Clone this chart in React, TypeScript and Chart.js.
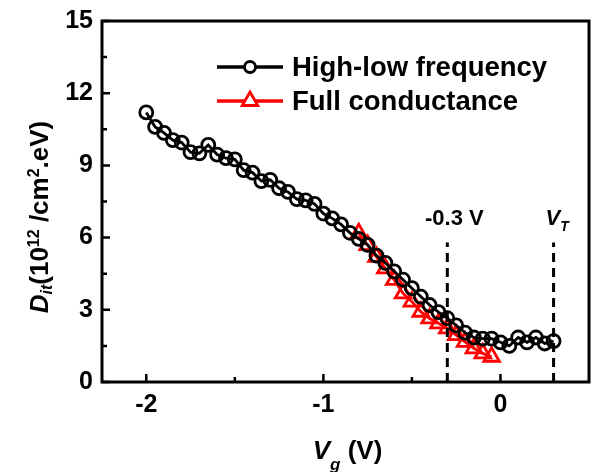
import React, { useEffect, useRef } from "react";
import { Chart, registerables } from "chart.js";

Chart.register(...registerables);

// ---- data ----
const hlVg = [
  -2.0, -1.95, -1.9, -1.85, -1.8, -1.75, -1.7, -1.65, -1.6, -1.55, -1.5, -1.45,
  -1.4, -1.35, -1.3, -1.25, -1.2, -1.15, -1.1, -1.05, -1.0, -0.95, -0.9, -0.85,
  -0.8, -0.75, -0.7, -0.65, -0.6, -0.55, -0.5, -0.45, -0.4, -0.35, -0.3, -0.25,
  -0.2, -0.15, -0.1, -0.05, 0.0, 0.05, 0.1, 0.15, 0.2, 0.25, 0.3,
];
const hlDit = [
  11.2, 10.6, 10.35, 10.05, 9.95, 9.55, 9.5, 9.85, 9.45, 9.3, 9.25, 8.8,
  8.7, 8.35, 8.4, 8.05, 7.9, 7.6, 7.55, 7.4, 7.0, 6.8, 6.55, 6.2,
  5.95, 5.7, 5.25, 4.95, 4.6, 4.25, 3.9, 3.55, 3.2, 2.9, 2.65, 2.35,
  2.05, 1.85, 1.8, 1.8, 1.65, 1.5, 1.85, 1.65, 1.85, 1.6, 1.7,
];
const fcVg = [
  -0.8, -0.75, -0.7, -0.65, -0.6, -0.55, -0.5, -0.45, -0.4, -0.35, -0.3, -0.25,
  -0.2, -0.15, -0.1, -0.05,
];
const fcDit = [
  6.18, 5.69, 5.2, 4.72, 4.24, 3.68, 3.34, 2.92, 2.64, 2.44, 2.23, 1.95,
  1.67, 1.4, 1.19, 1.05,
];
const seriesNames = ["High-low frequency", "Full conductance"];
const xTicks = [-2, -1, 0];
const xMinor = [-1.5, -0.5];
const yTicks = [0, 3, 6, 9, 12, 15];
const yMinor = [1.5, 4.5, 7.5, 10.5, 13.5];
const markLines = [-0.3, 0.3];
const markTop = 5.8;
const markLabels = ["-0.3 V", "V"];

const FONT = '"Liberation Sans", Arial, Helvetica, sans-serif';
const RED = "#ff0000";

type Run = { t: string; size: number; italic?: boolean; dy?: number };

function runsWidth(ctx: CanvasRenderingContext2D, runs: Run[]) {
  let w = 0;
  for (const r of runs) {
    ctx.font = `${r.italic ? "italic " : ""}bold ${r.size}px ${FONT}`;
    w += ctx.measureText(r.t).width;
  }
  return w;
}
function drawRuns(ctx: CanvasRenderingContext2D, runs: Run[], x: number, y: number) {
  let cx = x;
  ctx.textBaseline = "alphabetic";
  ctx.textAlign = "left";
  for (const r of runs) {
    ctx.font = `${r.italic ? "italic " : ""}bold ${r.size}px ${FONT}`;
    ctx.fillText(r.t, cx, y + (r.dy || 0));
    cx += ctx.measureText(r.t).width;
  }
}

const overlay = {
  id: "overlay",
  afterDraw(chart: any) {
    const { ctx, chartArea: a } = chart;
    const xs = chart.scales.x;
    const ys = chart.scales.y;
    ctx.save();
    ctx.fillStyle = "#000";
    ctx.strokeStyle = "#000";
    // frame
    ctx.lineWidth = 3;
    ctx.strokeRect(a.left, a.top, a.right - a.left, a.bottom - a.top);
    // inward ticks
    ctx.lineWidth = 2.5;
    ctx.beginPath();
    xTicks.forEach((v) => {
      const p = xs.getPixelForValue(v);
      ctx.moveTo(p, a.bottom);
      ctx.lineTo(p, a.bottom - 8);
    });
    xMinor.forEach((v) => {
      const p = xs.getPixelForValue(v);
      ctx.moveTo(p, a.bottom);
      ctx.lineTo(p, a.bottom - 5);
    });
    yTicks.forEach((v) => {
      const p = ys.getPixelForValue(v);
      ctx.moveTo(a.left, p);
      ctx.lineTo(a.left + 8, p);
    });
    yMinor.forEach((v) => {
      const p = ys.getPixelForValue(v);
      ctx.moveTo(a.left, p);
      ctx.lineTo(a.left + 5, p);
    });
    ctx.stroke();

    // x title
    const xRuns: Run[] = [
      { t: "V", size: 26, italic: true },
      { t: "g", size: 17, italic: true, dy: 11 },
      { t: " (V)", size: 26 },
    ];
    const xw = runsWidth(ctx, xRuns);
    drawRuns(ctx, xRuns, (a.left + a.right) / 2 + 2 - xw / 2, 459);

    // y title (rotated)
    const yRuns: Run[] = [
      { t: "D", size: 26, italic: true },
      { t: "it", size: 16, italic: true, dy: 4 },
      { t: "(10", size: 26 },
      { t: "12", size: 16, dy: -9 },
      { t: " /cm", size: 26 },
      { t: "2", size: 16, dy: -9 },
      { t: ".eV)", size: 26 },
    ];
    const yw = runsWidth(ctx, yRuns);
    ctx.save();
    ctx.translate(48, 217);
    ctx.rotate(-Math.PI / 2);
    drawRuns(ctx, yRuns, -yw / 2, 0);
    ctx.restore();

    // marker labels
    const p1 = xs.getPixelForValue(markLines[0]);
    ctx.font = `bold 22px ${FONT}`;
    ctx.textAlign = "center";
    ctx.textBaseline = "alphabetic";
    ctx.fillText(markLabels[0], p1 + 7, 225);
    const p2 = xs.getPixelForValue(markLines[1]);
    drawRuns(
      ctx,
      [
        { t: markLabels[1], size: 22, italic: true },
        { t: "T", size: 14, italic: true, dy: 6 },
      ],
      p2 - 8,
      225
    );

    // legend
    const rows = [
      { y: 67, color: "#000", style: "circle", label: seriesNames[0] },
      { y: 101, color: RED, style: "triangle", label: seriesNames[1] },
    ];
    rows.forEach((r) => {
      ctx.strokeStyle = r.color;
      ctx.lineWidth = 3.5;
      ctx.beginPath();
      ctx.moveTo(217, r.y);
      ctx.lineTo(283, r.y);
      ctx.stroke();
      ctx.fillStyle = "#fff";
      ctx.lineWidth = 2.8;
      ctx.beginPath();
      if (r.style === "circle") {
        ctx.arc(250, r.y, 5.5, 0, Math.PI * 2);
      } else {
        const rad = 9;
        ctx.moveTo(250, r.y - rad);
        ctx.lineTo(250 + rad * 0.866, r.y + rad * 0.5);
        ctx.lineTo(250 - rad * 0.866, r.y + rad * 0.5);
        ctx.closePath();
      }
      ctx.fill();
      ctx.stroke();
      ctx.fillStyle = "#000";
      ctx.font = `bold 27.5px ${FONT}`;
      ctx.textAlign = "left";
      ctx.textBaseline = "middle";
      ctx.fillText(r.label, 292, r.y + 1);
    });
    ctx.restore();
  },
};

export default function App() {
  const ref = useRef<HTMLCanvasElement | null>(null);
  useEffect(() => {
    if (!ref.current) return;
    const hl = hlVg.map((x, i) => ({ x, y: hlDit[i] }));
    const fc = fcVg.map((x, i) => ({ x, y: fcDit[i] }));
    const dashSets = markLines.map((v) => ({
      label: "mark",
      data: [
        { x: v, y: 0 },
        { x: v, y: markTop },
      ],
      borderColor: "#000",
      borderWidth: 3,
      borderDash: [9, 6],
      pointRadius: 0,
      fill: false,
    }));
    const chart = new Chart(ref.current, {
      type: "line",
      data: {
        datasets: [
          ...dashSets,
          {
            label: seriesNames[0],
            data: hl,
            borderColor: "#000",
            backgroundColor: "transparent",
            borderWidth: 2.8,
            pointStyle: "circle",
            pointRadius: 6.5,
            pointBorderWidth: 2.8,
            pointBorderColor: "#000",
            pointBackgroundColor: "transparent",
            fill: false,
          },
          {
            label: seriesNames[1],
            data: fc,
            borderColor: RED,
            backgroundColor: "transparent",
            borderWidth: 2.8,
            pointStyle: "triangle",
            pointRadius: 9,
            pointBorderWidth: 2.8,
            pointBorderColor: RED,
            pointBackgroundColor: "transparent",
            fill: false,
          },
        ],
      },
      options: {
        animation: false,
        responsive: false,
        devicePixelRatio: 1,
        layout: { autoPadding: false, padding: { top: 21, right: 6, left: 0, bottom: 0 } },
        plugins: { legend: { display: false }, tooltip: { enabled: false } },
        scales: {
          x: {
            type: "linear",
            min: -2.25,
            max: 0.5,
            grid: { display: false, drawTicks: false },
            border: { display: false },
            afterBuildTicks: (s: any) => {
              s.ticks = xTicks.map((value) => ({ value }));
            },
            afterFit: (s: any) => {
              s.height = 90;
              s.paddingLeft = 0;
              s.paddingRight = 0;
            },
            ticks: {
              padding: 8,
              color: "#000",
              font: { family: FONT, size: 25, weight: "bold" },
              callback: (v: any) => String(v),
            },
          },
          y: {
            type: "linear",
            min: 0,
            max: 15,
            grid: { display: false, drawTicks: false },
            border: { display: false },
            afterBuildTicks: (s: any) => {
              s.ticks = yTicks.map((value) => ({ value }));
            },
            afterFit: (s: any) => {
              s.width = 102;
              s.paddingTop = 0;
              s.paddingBottom = 0;
            },
            ticks: {
              padding: 9,
              color: "#000",
              font: { family: FONT, size: 25, weight: "bold" },
              callback: (v: any) => String(v),
            },
          },
        },
      },
      plugins: [overlay],
    } as any);
    return () => chart.destroy();
  }, []);
  return (
    <div style={{ position: "fixed", left: 0, top: 0, width: 595, height: 472, background: "#fff" }}>
      <canvas ref={ref} width={595} height={472} style={{ width: 595, height: 472 }} />
    </div>
  );
}
